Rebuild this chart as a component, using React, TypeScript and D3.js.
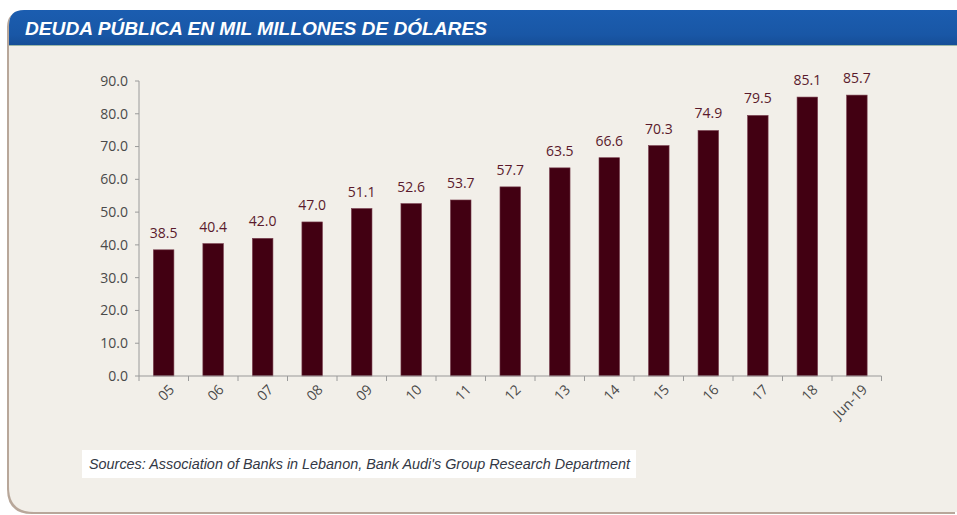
import React from "react";
import * as d3 from "d3";

const categories = ["05", "06", "07", "08", "09", "10", "11", "12", "13", "14", "15", "16", "17", "18", "Jun-19"];
const values = [38.5, 40.4, 42.0, 47.0, 51.1, 52.6, 53.7, 57.7, 63.5, 66.6, 70.3, 74.9, 79.5, 85.1, 85.7];
const yTicks = [0, 10, 20, 30, 40, 50, 60, 70, 80, 90];
const title = "DEUDA PÚBLICA EN MIL MILLONES DE DÓLARES";
const source = "Sources: Association of Banks in Lebanon, Bank Audi's Group Research Department";

const W = 957;
const H = 515;
const left = 139;
const right = 881.5;
const top = 81;
const bottom = 376;

export default function App() {
  const x = d3.scaleBand<string>().domain(categories).range([left, right]).paddingInner(0.585).paddingOuter(0.29);
  const xb = d3.scaleBand<string>().domain(categories).range([left, right]);
  const y = d3.scaleLinear().domain([0, 90]).range([bottom, top]);
  const fmt = d3.format(".1f");
  const font = "'Open Sans', 'Noto Sans', sans-serif";

  const panelPath = `M 9 25 Q 9 10 24 10 L ${W} 10 L ${W} ${H - 3} L 34 ${H - 3} Q 9 ${H - 3} 9 ${H - 28} Z`;
  const headerPath = `M 9 45 L 9 25 Q 9 10 24 10 L ${W} 10 L ${W} 45 Z`;

  return (
    <svg width={W} height={H} style={{ position: "absolute", left: 0, top: 0 }} xmlns="http://www.w3.org/2000/svg">
      <defs>
        <linearGradient id="hdr" x1="0" y1="0" x2="0" y2="1">
          <stop offset="0" stopColor="#1B5DB0" />
          <stop offset="0.7" stopColor="#1957A6" />
          <stop offset="1" stopColor="#164E98" />
        </linearGradient>
      </defs>
      <rect x={0} y={0} width={W} height={H} fill="#ffffff" />
      {/* shadow */}
      <path d={panelPath} fill="#B8A79A" transform="translate(-2,2)" />
      <path d={panelPath} fill="#F2EFE9" />
      <path d={headerPath} fill="url(#hdr)" />
      <line x1={9} x2={W} y1={45.5} y2={45.5} stroke="#9DB8A8" strokeWidth={1} />
      <text x={25} y={35} fill="#ffffff" fontFamily="'Liberation Sans', Arial, sans-serif" fontWeight="bold" fontStyle="italic" fontSize={18} textLength={462} lengthAdjust="spacingAndGlyphs">
        {title}
      </text>

      {/* bars */}
      {categories.map((c, i) => (
        <rect key={c} x={x(c)} y={y(values[i])} width={x.bandwidth()} height={bottom - y(values[i])} fill="#420012" stroke="#7A4050" strokeWidth={0.6} />
      ))}
      {categories.map((c, i) => (
        <text key={"v" + c} x={(x(c) as number) + x.bandwidth() / 2} y={y(values[i]) - 12} textAnchor="middle" fill="#5A1A2C" fontFamily={font} fontSize={14}>
          {fmt(values[i])}
        </text>
      ))}

      {/* y axis */}
      <line x1={left} x2={left} y1={top} y2={bottom} stroke="#9A9A9A" strokeWidth={1} />
      {yTicks.map((t) => (
        <g key={t}>
          <line x1={left - 4} x2={left} y1={y(t)} y2={y(t)} stroke="#9A9A9A" strokeWidth={1} />
          <text x={128} y={y(t)} dy="0.35em" textAnchor="end" fill="#4A4A4A" fontFamily={font} fontSize={14}>
            {fmt(t)}
          </text>
        </g>
      ))}

      {/* x axis */}
      <line x1={left} x2={right} y1={bottom} y2={bottom} stroke="#9A9A9A" strokeWidth={1.2} />
      {[...categories.map((c) => xb(c) as number), right].map((p, i) => (
        <line key={"t" + i} x1={p} x2={p} y1={bottom} y2={bottom + 5} stroke="#9A9A9A" strokeWidth={1} />
      ))}
      {categories.map((c) => {
        const cx = (xb(c) as number) + xb.bandwidth() / 2 + 8;
        const cy = bottom + 11;
        return (
          <text key={"x" + c} transform={`translate(${cx},${cy}) rotate(-45)`} textAnchor="end" dy="0.35em" fill="#4A4A4A" fontFamily={font} fontSize={14}>
            {c}
          </text>
        );
      })}

      {/* source box */}
      <rect x={82} y={450} width={554} height={28} fill="#ffffff" />
      <text x={89} y={469} fill="#333845" fontFamily="'Liberation Sans', Arial, sans-serif" fontStyle="italic" fontSize={14} textLength={541} lengthAdjust="spacingAndGlyphs">
        {source}
      </text>
    </svg>
  );
}
